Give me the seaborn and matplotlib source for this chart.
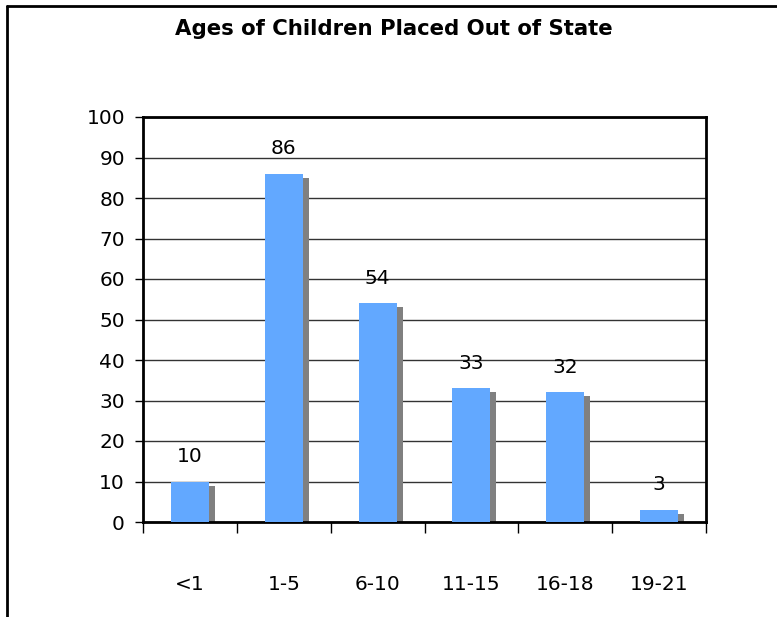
import numpy as np
import matplotlib
matplotlib.use("Agg")
import matplotlib.pyplot as plt
import matplotlib.transforms as mtransforms
from matplotlib.lines import Line2D
import seaborn as sns

age_groups = ["<1", "1-5", "6-10", "11-15", "16-18", "19-21"]
children = [10, 86, 54, 33, 32, 3]
title = "Ages of Children Placed Out of State"

sns.set_style("white")
plt.rcParams["font.family"] = ["DejaVu Sans"]
plt.rcParams["text.color"] = "black"
plt.rcParams["xtick.color"] = "black"
plt.rcParams["ytick.color"] = "black"

W, H = 777, 617
fig = plt.figure(figsize=(W / 100, H / 100), dpi=100)
ax = fig.add_axes([143 / W, 1 - 522 / H, (706 - 143) / W, (522 - 117) / H])

# shadow bars (same data, shifted a few pixels right and down)
sns.barplot(x=age_groups, y=children, color="#808080", width=0.405,
            saturation=1, linewidth=0, ax=ax, zorder=2)
shift = mtransforms.ScaledTranslation(6 / 100, -4 / 100, fig.dpi_scale_trans)
for p in ax.patches:
    p.set_transform(ax.transData + shift)
n_shadow = len(ax.patches)

sns.barplot(x=age_groups, y=children, color="#62A8FF", width=0.405,
            saturation=1, linewidth=0, ax=ax, zorder=3)

for p, v in zip(ax.patches[n_shadow:], children):
    ax.annotate(str(v), (p.get_x() + p.get_width() / 2, v),
                xytext=(0, 25), textcoords="offset pixels",
                ha="center", va="center", fontsize=14.5, color="black")

ax.set_ylim(0, 100)
ax.set_xlim(-0.5, len(age_groups) - 0.5)
ax.set_yticks(np.arange(0, 101, 10))
ax.yaxis.grid(True, color="#333333", linewidth=1)
ax.set_axisbelow(True)

ax.tick_params(axis="y", which="major", left=True, length=6, width=1,
               color="black", labelsize=14.5, labelcolor="black", pad=7)
ax.tick_params(axis="x", which="major", bottom=False, length=0,
               labelsize=14.5, labelcolor="black", pad=38.5)
ax.set_xticks(np.arange(-0.5, len(age_groups), 1), minor=True)
ax.tick_params(axis="x", which="minor", bottom=True, length=8, width=1,
               color="black", direction="out")

for s in ax.spines.values():
    s.set_visible(True)
    s.set_color("black")
    s.set_linewidth(2)

fig.text(394 / W, 1 - 29 / H, title, ha="center", va="center",
         fontsize=15.3, fontweight="bold", color="black")

# outer frame: left and top edges
fig.add_artist(Line2D([7 / W, 1], [1 - 6 / H, 1 - 6 / H],
                      transform=fig.transFigure, color="black", linewidth=2))
fig.add_artist(Line2D([7 / W, 7 / W], [0, 1 - 6 / H],
                      transform=fig.transFigure, color="black", linewidth=2))

fig.savefig("out.png", dpi=100, facecolor="white")
